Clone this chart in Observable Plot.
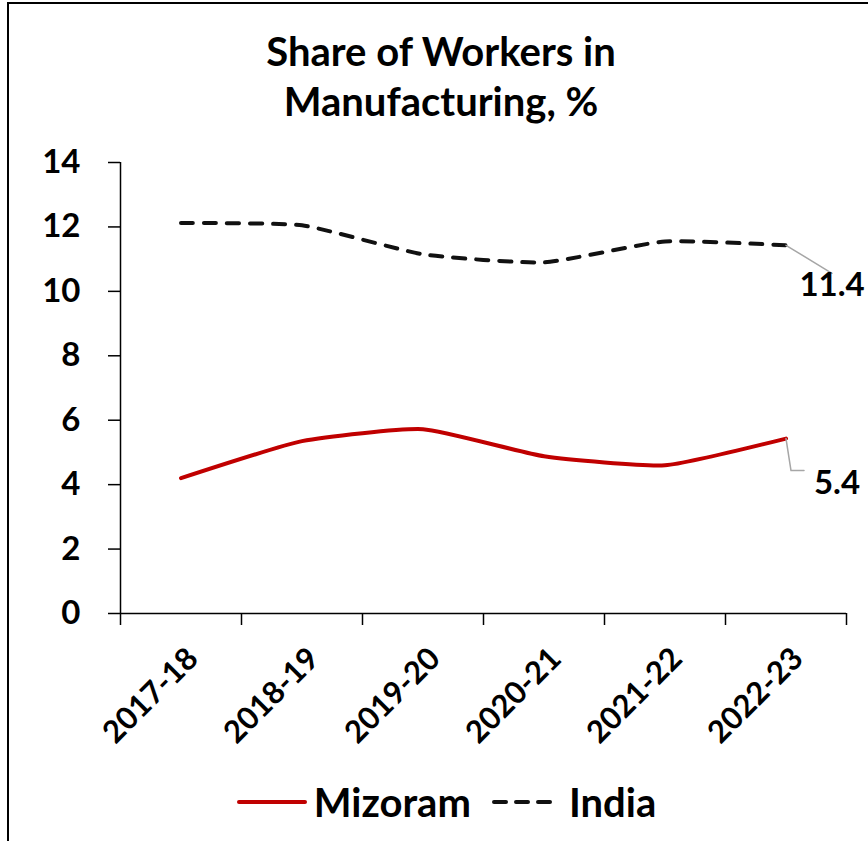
<!DOCTYPE html>
<html><head><meta charset="utf-8">
<script src="https://cdn.jsdelivr.net/npm/d3@7"></script>
<script src="https://cdn.jsdelivr.net/npm/@observablehq/plot@0.6"></script>
<style>
body{margin:0;background:#fff;}
#wrap{position:relative;width:868px;height:841px;overflow:hidden;font-family:Lato,sans-serif;background:#fff;}
#frame{position:absolute;left:7px;top:2px;width:900px;height:900px;border-top:2px solid #000;border-left:2px solid #000;pointer-events:none;}
#title{position:absolute;left:0;width:882px;top:26px;text-align:center;font-weight:700;font-size:40px;line-height:50px;color:#000;}
#chart{position:absolute;left:0;top:0;}
#legend{position:absolute;top:778px;left:0;width:892px;display:flex;justify-content:center;align-items:center;font-weight:700;font-size:40px;color:#000;}
#legend .item{display:flex;align-items:center;margin:0 10px;}
#legend svg{margin-right:6px;}
</style></head>
<body>
<div id="wrap">
  <div id="chart"></div>
  <div id="title">Share of Workers in<br>Manufacturing, %</div>
  <div id="legend"></div>
  <div id="frame"></div>
</div>
<script>
const categories = ["2017-18", "2018-19", "2019-20", "2020-21", "2021-22", "2022-23"];
const mizoram = [4.2, 5.35, 5.72, 4.88, 4.6, 5.43];
const india = [12.12, 12.05, 11.15, 10.9, 11.55, 11.43];
const yTicks = [0, 2, 4, 6, 8, 10, 12, 14];
const seriesNames = ["Mizoram", "India"];
const seriesColors = ["#C00000", "#111111"];
const endLabels = ["5.4", "11.4"];

const rows = [];
categories.forEach((c, i) => {
  rows.push({pos: i + 0.5, cat: c, series: "Mizoram", v: mizoram[i]});
  rows.push({pos: i + 0.5, cat: c, series: "India", v: india[i]});
});
const last = categories.length - 0.5;
const ends = [
  {pos: last, v: mizoram[mizoram.length - 1], label: endLabels[0], series: "Mizoram"},
  {pos: last, v: india[india.length - 1], label: endLabels[1], series: "India"}
];

const leaderMiz = {draw(ctx) { ctx.moveTo(0, 0); ctx.lineTo(5, 32); ctx.lineTo(18, 32); }};
const leaderInd = {draw(ctx) { ctx.moveTo(0, 0); ctx.lineTo(46, 28); }};

const font = "Lato, sans-serif";
const chart = Plot.plot({
  width: 868, height: 841,
  marginTop: 162, marginBottom: 228, marginLeft: 120, marginRight: 22,
  x: {type: "linear", domain: [0, categories.length]},
  y: {domain: [0, 14]},
  style: {fontFamily: font, color: "#000", background: "transparent"},
  marks: [
    Plot.axisY({ticks: yTicks, tickSize: 12, tickPadding: 28, fontSize: 33, fontWeight: 700, label: null, strokeWidth: 1.5}),
    Plot.axisX({ticks: d3.range(categories.length + 1), tickSize: 12, tickFormat: () => "", label: null, strokeWidth: 1.5}),
    Plot.axisX({ticks: categories.map((c, i) => i + 0.5), tickSize: 0, tickPadding: 40, dx: 12,
      tickFormat: d => categories[Math.round(d - 0.5)], tickRotate: -45, fontSize: 31, fontWeight: 700, label: null}),
    Plot.ruleX([0], {y1: 0, y2: 14, strokeWidth: 1.5}),
    Plot.ruleY([0], {strokeWidth: 1.5}),
    Plot.line(rows.filter(d => d.series === "Mizoram"), {x: "pos", y: "v", stroke: seriesColors[0], strokeWidth: 4, curve: "cardinal", tension: 0.5}),
    Plot.line(rows.filter(d => d.series === "India"), {x: "pos", y: "v", stroke: seriesColors[1], strokeWidth: 4, strokeDasharray: "12,11", strokeLinecap: "round", curve: "cardinal", tension: 0.5}),
    Plot.vector(ends.filter(d => d.series === "Mizoram"), {x: "pos", y: "v", length: 1, anchor: "start", shape: leaderMiz, stroke: "#A6A6A6", strokeWidth: 1.5}),
    Plot.vector(ends.filter(d => d.series === "India"), {x: "pos", y: "v", length: 1, anchor: "start", shape: leaderInd, stroke: "#A6A6A6", strokeWidth: 1.5}),
    Plot.text(ends.filter(d => d.series === "Mizoram"), {x: "pos", y: "v", text: "label", dx: 51, dy: 45, fontSize: 33, fontWeight: 700, fill: "#000"}),
    Plot.text(ends.filter(d => d.series === "India"), {x: "pos", y: "v", text: "label", dx: 46, dy: 40, fontSize: 33, fontWeight: 700, fill: "#000"})
  ]
});
document.getElementById("chart").appendChild(chart);

const legend = document.getElementById("legend");
seriesNames.forEach((name, i) => {
  const item = document.createElement("div");
  item.className = "item";
  const dash = i === 1 ? 'stroke-dasharray="12,10"' : "";
  item.innerHTML = `<svg width="72" height="12"><line x1="3" y1="6" x2="69" y2="6" stroke="${seriesColors[i]}" stroke-width="4" stroke-linecap="round" ${dash}/></svg><span>${name}</span>`;
  legend.appendChild(item);
});
</script>
</body></html>
